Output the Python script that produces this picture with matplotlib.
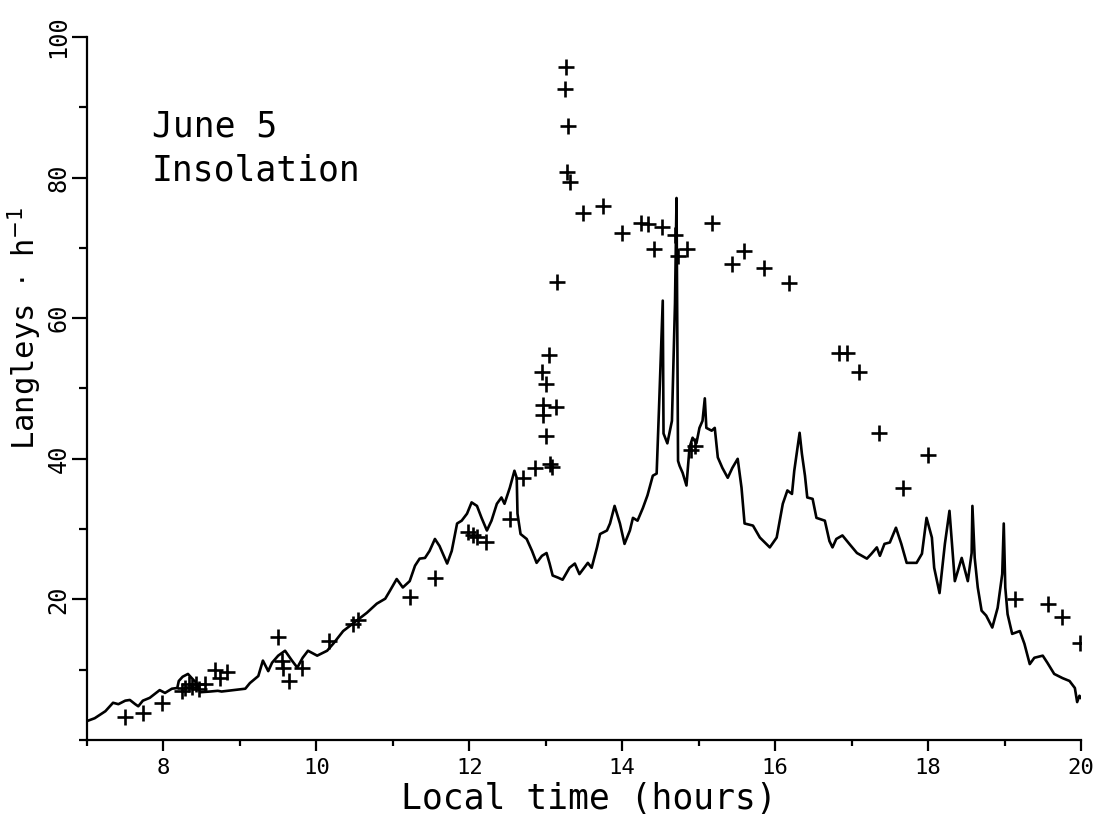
import numpy as np
import matplotlib
matplotlib.use("Agg")
import matplotlib.pyplot as plt
from matplotlib.ticker import MultipleLocator

# ------- measured insolation (continuous trace) -------
trace_hours = [7.00, 7.10, 7.24, 7.34, 7.41, 7.50, 7.56, 7.63, 7.67, 7.73, 7.82, 7.89, 7.95,
               8.02, 8.11, 8.18, 8.20, 8.25, 8.32, 8.37, 8.44, 8.48, 8.61, 8.71, 8.76, 8.84,
               9.07, 9.13, 9.24, 9.30, 9.37, 9.42, 9.50, 9.59, 9.68, 9.75, 9.82, 9.89,
               10.01, 10.14, 10.22, 10.35, 10.53, 10.66, 10.79, 10.90, 10.96,
               11.05, 11.13, 11.22, 11.29, 11.35, 11.42, 11.48, 11.55, 11.61, 11.71, 11.77,
               11.84, 11.90, 11.97, 12.03, 12.10, 12.16, 12.23, 12.29, 12.36, 12.42, 12.46,
               12.53, 12.59, 12.62, 12.63, 12.67, 12.75, 12.82, 12.88, 12.95,
               13.01, 13.05, 13.09, 13.16, 13.22, 13.31, 13.38, 13.44, 13.55, 13.60, 13.67,
               13.71, 13.80, 13.84, 13.90, 13.97, 14.03, 14.10, 14.14, 14.20, 14.27, 14.33,
               14.40, 14.45, 14.48, 14.53, 14.54, 14.59, 14.65, 14.69, 14.71, 14.73, 14.75,
               14.79, 14.84, 14.88, 14.92, 14.97, 15.01, 15.05, 15.08, 15.10, 15.17, 15.21,
               15.25, 15.31, 15.38, 15.44, 15.51, 15.56, 15.60, 15.71, 15.80, 15.93,
               16.02, 16.10, 16.16, 16.22, 16.25, 16.32, 16.35, 16.39, 16.42, 16.49, 16.54,
               16.65, 16.71, 16.75, 16.80, 16.88, 16.97, 17.07, 17.20, 17.26, 17.33, 17.37,
               17.43, 17.50, 17.58, 17.65, 17.72, 17.85, 17.92, 17.98, 18.05, 18.08, 18.15,
               18.22, 18.28, 18.35, 18.44, 18.52, 18.57, 18.58, 18.61, 18.65, 18.70, 18.76,
               18.84, 18.91, 18.97, 18.99, 19.01, 19.04, 19.10, 19.20, 19.26, 19.33, 19.39,
               19.50, 19.56, 19.65, 19.76, 19.85, 19.92, 19.95, 19.98, 20.00]
trace_values = [2.7, 3.1, 4.1, 5.3, 5.1, 5.6, 5.7, 5.1, 4.8, 5.6, 6.0, 6.6, 7.1,
                6.7, 7.3, 7.4, 8.4, 9.0, 9.4, 8.8, 8.0, 6.8, 6.9, 7.0, 6.9, 7.0,
                7.3, 8.1, 9.1, 11.3, 9.8, 11.0, 12.0, 12.7, 11.3, 10.3, 11.7, 12.7,
                12.0, 12.7, 13.7, 15.5, 17.0, 18.1, 19.4, 20.1, 21.2,
                22.9, 21.7, 22.6, 24.8, 25.8, 25.9, 26.9, 28.6, 27.6, 25.1, 26.9,
                30.8, 31.2, 32.2, 33.8, 33.3, 31.6, 29.8, 31.2, 33.6, 34.5, 33.6,
                35.9, 38.3, 37.3, 32.2, 29.3, 28.6, 26.9, 25.2, 26.2,
                26.6, 25.1, 23.4, 23.1, 22.8, 24.5, 25.1, 23.6, 25.2, 24.5, 27.4,
                29.3, 29.8, 30.8, 33.3, 30.8, 27.9, 29.8, 31.6, 31.2, 33.0, 34.8,
                37.6, 37.9, 46.9, 62.5, 43.6, 42.2, 45.4, 62.1, 77.1, 39.7, 39.0,
                38.0, 36.2, 41.6, 43.0, 42.2, 44.4, 45.4, 48.6, 44.4, 44.0, 44.4,
                40.2, 38.7, 37.3, 38.7, 40.0, 35.9, 30.8, 30.5, 28.8, 27.4,
                28.8, 33.6, 35.5, 35.0, 38.3, 43.7, 40.7, 37.6, 34.5, 34.3, 31.6,
                31.2, 28.3, 27.4, 28.6, 29.1, 27.9, 26.6, 25.8, 26.5, 27.4, 26.2,
                27.9, 28.1, 30.2, 27.9, 25.2, 25.2, 26.5, 31.6, 28.8, 24.5, 20.9,
                27.9, 32.6, 22.6, 25.9, 22.6, 26.6, 33.3, 25.9, 21.7, 18.4, 17.7,
                16.0, 18.8, 23.6, 30.8, 21.7, 17.9, 15.1, 15.5, 13.7, 10.8, 11.7,
                12.0, 11.0, 9.4, 8.8, 8.4, 7.4, 5.4, 6.3, 6.0]

# ------- computed / point values (crosses) -------
point_hours = [7.50, 7.73, 7.98, 8.24, 8.28, 8.33, 8.37, 8.42, 8.46, 8.54, 8.67, 8.74, 8.83,
               9.50, 9.55, 9.56, 9.64, 9.81, 10.17, 10.48, 10.54, 11.22, 11.55,
               11.98, 12.05, 12.10, 12.22, 12.53, 12.70, 12.86, 13.05, 13.08, 13.00,
               12.96, 12.96, 13.13, 12.95, 13.00, 13.04, 13.15,
               13.26, 13.25, 13.29, 13.28, 13.32, 13.49, 13.75, 14.00, 14.25, 14.34,
               14.52, 14.42, 14.69, 14.73, 14.85, 14.90, 14.95, 15.17, 15.44, 15.59,
               15.85, 16.18, 16.83, 16.94, 17.10, 17.36, 17.67, 18.00,
               19.14, 19.57, 19.75, 19.99]
point_values = [3.3, 3.8, 5.3, 7.0, 7.4, 7.9, 7.5, 7.9, 7.3, 8.0, 10.0, 8.8, 9.7,
                14.7, 11.3, 10.3, 8.4, 10.3, 14.1, 16.5, 17.1, 20.4, 23.1,
                29.6, 29.2, 28.9, 28.1, 31.5, 37.2, 38.7, 39.3, 38.9, 43.3,
                46.2, 47.6, 47.3, 52.4, 50.7, 54.8, 65.1,
                95.7, 92.6, 87.3, 80.8, 79.3, 74.9, 75.9, 72.1, 73.6, 73.4,
                72.9, 69.9, 71.8, 68.9, 69.9, 41.3, 41.8, 73.6, 67.7, 69.5,
                67.1, 65.0, 55.0, 55.0, 52.3, 43.6, 35.9, 40.6,
                20.1, 19.4, 17.5, 13.8]

x_ticks = [8, 10, 12, 14, 16, 18, 20]
y_ticks = [20, 40, 60, 80, 100]

mono = "DejaVu Sans Mono"

fig = plt.figure(figsize=(10.99, 8.16), dpi=100)
ax = fig.add_axes([0.0792, 0.0931, 0.9044, 0.8616])

ax.plot(trace_hours, trace_values, color="k", lw=1.9)
ax.plot(point_hours, point_values, ls="none", marker="+", color="k",
        markersize=11, markeredgewidth=1.9)

ax.set_xlim(7, 20)
ax.set_ylim(0, 100)
ax.set_xticks(x_ticks)
ax.set_yticks(y_ticks)
ax.xaxis.set_minor_locator(MultipleLocator(1))
ax.yaxis.set_minor_locator(MultipleLocator(10))

for s in ["top", "right"]:
    ax.spines[s].set_visible(False)
for s in ["left", "bottom"]:
    ax.spines[s].set_linewidth(1.6)

ax.tick_params(axis="both", which="major", direction="out", width=1.6, length=8, pad=5)
ax.tick_params(axis="both", which="minor", direction="out", width=1.6, length=4)
ax.tick_params(axis="y", which="major", length=11, pad=1)
ax.tick_params(axis="y", which="minor", length=6)

for lab in ax.get_xticklabels():
    lab.set_fontfamily(mono)
    lab.set_fontsize(16)
for lab in ax.get_yticklabels():
    lab.set_fontfamily(mono)
    lab.set_fontsize(17)
    lab.set_rotation(90)
    lab.set_va("center")

ax.set_xlabel("Local time (hours)", family=mono, fontsize=25)
ax.xaxis.set_label_coords(0.505, -0.060)
ax.set_ylabel(r"Langleys $\cdot$ h$^{-1}$", family=mono, fontsize=22)
ax.yaxis.set_label_coords(-0.043, 0.585)

ax.text(0.065, 0.858, "June 5", transform=ax.transAxes, family=mono,
        fontsize=25, va="baseline", ha="left")
ax.text(0.065, 0.796, "Insolation", transform=ax.transAxes, family=mono,
        fontsize=25, va="baseline", ha="left")

fig.savefig("out.png", dpi=100)
